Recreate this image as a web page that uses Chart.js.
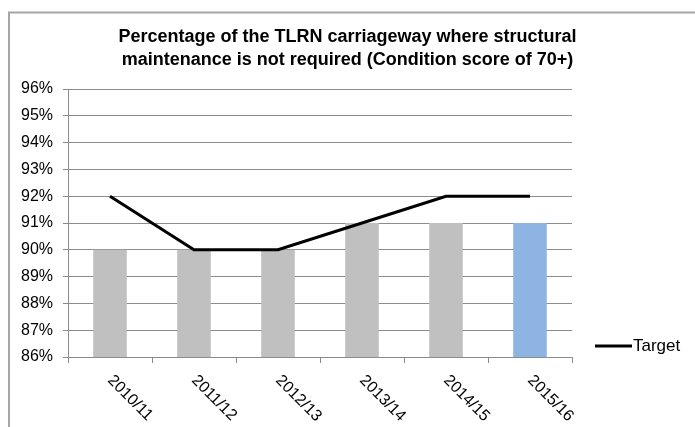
<!DOCTYPE html>
<html>
<head>
<meta charset="utf-8">
<script src="https://cdn.jsdelivr.net/npm/chart.js@4.4.1/dist/chart.umd.min.js"></script>
<style>
html,body{margin:0;padding:0;background:#fff;}
#wrap{width:695px;height:427px;position:relative;}
</style>
</head>
<body>
<div id="wrap"><canvas id="c" width="695" height="427"></canvas></div>
<script>
const categories = ['2010/11','2011/12','2012/13','2013/14','2014/15','2015/16'];
const actualValues = [90, 90, 90, 91, 91, 91];
const targetValues = [92, 90, 90, 91, 92, 92];
const titleLines = ['Percentage of the TLRN carriageway where structural', 'maintenance is not required (Condition score of 70+)'];
const legendLabel = 'Target';
const yMin = 86, yMax = 96, yStep = 1;

const FONT = "'Liberation Sans', Arial, sans-serif";
const GRID = '#8c8c8c';

const framePlugin = {
  id: 'frame',
  beforeDraw(chart) {
    const ctx = chart.ctx;
    ctx.save();
    ctx.fillStyle = '#fff';
    ctx.fillRect(0, 0, chart.width, chart.height);
    ctx.strokeStyle = '#a6a6a6';
    ctx.lineWidth = 2;
    ctx.beginPath();
    ctx.moveTo(9, chart.height);
    ctx.lineTo(9, 12.5);
    ctx.lineTo(chart.width, 12.5);
    ctx.stroke();
    // title
    ctx.fillStyle = '#000';
    ctx.font = 'bold 18px ' + FONT;
    ctx.textAlign = 'center';
    ctx.textBaseline = 'middle';
    titleLines.forEach((t, i) => ctx.fillText(t, chart.width / 2, 37 + i * 23));
    ctx.restore();
  }
};

const xLabelPlugin = {
  id: 'xlabels',
  afterDraw(chart) {
    const ctx = chart.ctx;
    const xs = chart.scales.x;
    const y0 = chart.chartArea.bottom;
    ctx.save();
    ctx.fillStyle = '#000';
    ctx.font = '16px ' + FONT;
    ctx.textAlign = 'left';
    ctx.textBaseline = 'middle';
    categories.forEach((lab, i) => {
      const x = xs.getPixelForValue(i);
      ctx.save();
      ctx.translate(x, y0 + 21);
      ctx.rotate(Math.PI / 4);
      ctx.fillText(lab, 0, 0);
      ctx.restore();
    });
    ctx.restore();
  }
};

const legendPlugin = {
  id: 'customLegend',
  afterDraw(chart) {
    const ctx = chart.ctx;
    const x0 = chart.chartArea.right + 23;
    const y = 346;
    ctx.save();
    ctx.strokeStyle = '#000';
    ctx.lineWidth = 3;
    ctx.beginPath();
    ctx.moveTo(x0, y);
    ctx.lineTo(x0 + 37, y);
    ctx.stroke();
    ctx.fillStyle = '#000';
    ctx.font = '17px ' + FONT;
    ctx.textAlign = 'left';
    ctx.textBaseline = 'middle';
    ctx.fillText(legendLabel, x0 + 38, y);
    ctx.restore();
  }
};

new Chart(document.getElementById('c'), {
  data: {
    labels: categories,
    datasets: [
      {
        type: 'line',
        label: legendLabel,
        data: targetValues,
        borderColor: '#000',
        borderWidth: 3,
        pointRadius: 0,
        tension: 0,
        fill: false,
        order: 0
      },
      {
        type: 'bar',
        label: 'Actual',
        data: actualValues,
        backgroundColor: (c) => c.dataIndex === categories.length - 1 ? '#8db4e2' : '#c0c0c0',
        borderWidth: 0,
        barPercentage: 0.4,
        categoryPercentage: 1.0,
        order: 1
      }
    ]
  },
  options: {
    responsive: false,
    animation: false,
    devicePixelRatio: 1,
    layout: { padding: { left: 0, right: 123, top: 89, bottom: 0 } },
    plugins: {
      legend: { display: false },
      tooltip: { enabled: false },
      title: { display: false }
    },
    scales: {
      x: {
        type: 'category',
        offset: true,
        ticks: { display: false },
        grid: { display: true, drawOnChartArea: false, drawTicks: true, tickLength: 6, color: GRID, offset: true },
        border: { display: true, color: GRID, width: 1 },
        afterFit(s) { s.height = 70; }
      },
      y: {
        type: 'linear',
        min: yMin,
        max: yMax,
        ticks: {
          stepSize: yStep,
          padding: 10,
          color: '#000',
          font: { family: FONT, size: 16 },
          callback: (v) => v + '%'
        },
        grid: { color: GRID, tickLength: 5, drawTicks: true },
        border: { display: true, color: GRID, width: 1 },
        afterFit(s) { s.width = 68; }
      }
    }
  },
  plugins: [framePlugin, xLabelPlugin, legendPlugin]
});
</script>
</body>
</html>
